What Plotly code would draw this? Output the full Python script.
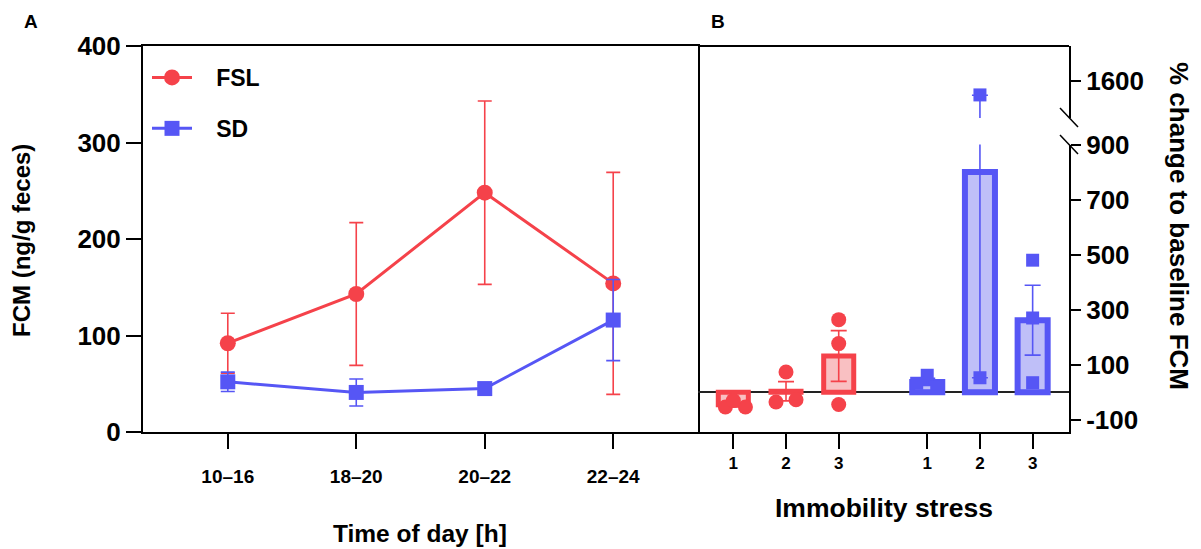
import plotly.graph_objects as go

W, H = 1201, 549

# ---------------- Data ----------------
# Panel A: FCM over time of day
time_labels = ["10–16", "18–20", "20–22", "22–24"]
fsl_mean = [92, 143, 248, 154]
fsl_err = [31, 74, 95, 115]
sd_mean = [52, 41, 45, 116]
sd_err = [10, 14, 3, 42]

# Panel B: % change to baseline FCM after immobility stress
stress_labels = ["1", "2", "3"]
fsl_b_x = [1, 2, 3]
sd_b_x = [4.68, 5.68, 6.68]
fsl_b_mean = [-45, 4, 132]
fsl_b_sem = [8, 35, 92]
sd_b_mean = [38, 800, 262]
sd_b_sem = [13, 747, 127]
# individual animals (group index, value, horizontal jitter)
fsl_pts_group = [0, 0, 0, 1, 1, 1, 2, 2, 2]
fsl_pts_val = [-53, -53, -30, 74, -35, -27, 264, 177, -44]
fsl_pts_jit = [-0.15, 0.23, 0.0, 0.0, -0.19, 0.19, 0.0, 0.0, 0.0]
sd_pts_group = [0, 0, 0, 1, 1, 2, 2, 2]
sd_pts_val = [62, 33, 18, 1548, 53, 480, 270, 35]
sd_pts_jit = [0.0, -0.2, 0.18, 0.0, 0.0, 0.0, 0.0, 0.0]

RED = "#F5424A"
BLUE = "#5656F5"
RED_LIGHT = "#F9C0C2"
BLUE_LIGHT = "#BFBFF8"
FONT = "Liberation Sans, Arial, sans-serif"
NB = "\u00a0"


def px(x):
    return x / W


def py(y):
    return 1 - y / H


fig = go.Figure()

# ---------------- Panel A ----------------
fig.add_trace(go.Scatter(
    x=time_labels, y=fsl_mean, name=NB * 3 + "FSL", mode="lines+markers",
    line=dict(color=RED, width=3), marker=dict(symbol="circle", size=16, color=RED),
    error_y=dict(type="data", array=fsl_err, color=RED, thickness=1.6, width=7),
    xaxis="x", yaxis="y", legendgroup="fsl"))
fig.add_trace(go.Scatter(
    x=time_labels, y=sd_mean, name=NB * 3 + "SD", mode="lines+markers",
    line=dict(color=BLUE, width=3), marker=dict(symbol="square", size=15, color=BLUE),
    error_y=dict(type="data", array=sd_err, color=BLUE, thickness=1.6, width=7),
    xaxis="x", yaxis="y", legendgroup="sd"))

# ---------------- Panel B ----------------
for yax in ("y2", "y3"):
    fig.add_trace(go.Bar(
        x=fsl_b_x, y=fsl_b_mean, width=0.57,
        marker=dict(color=RED_LIGHT, line=dict(color=RED, width=5)),
        error_y=dict(type="data", array=fsl_b_sem, color=RED, thickness=1.6, width=8),
        xaxis="x2", yaxis=yax, showlegend=False))
    fig.add_trace(go.Bar(
        x=sd_b_x, y=sd_b_mean, width=0.57,
        marker=dict(color=BLUE_LIGHT, line=dict(color=BLUE, width=6)),
        error_y=dict(type="data", array=sd_b_sem, color=BLUE, thickness=1.6, width=8),
        xaxis="x2", yaxis=yax, showlegend=False))
    fig.add_trace(go.Scatter(
        x=[fsl_b_x[g] + j for g, j in zip(fsl_pts_group, fsl_pts_jit)], y=fsl_pts_val,
        mode="markers", marker=dict(symbol="circle", size=15, color=RED),
        xaxis="x2", yaxis=yax, showlegend=False, cliponaxis=True))
    fig.add_trace(go.Scatter(
        x=[sd_b_x[g] + j for g, j in zip(sd_pts_group, sd_pts_jit)], y=sd_pts_val,
        mode="markers", marker=dict(symbol="square", size=13, color=BLUE),
        xaxis="x2", yaxis=yax, showlegend=False, cliponaxis=True))

axis_common = dict(showgrid=False, zeroline=False, showline=True, linecolor="black",
                   ticks="outside", tickcolor="black")

fig.update_layout(
    width=W, height=H,
    margin=dict(l=0, r=0, t=0, b=0, autoexpand=False),
    paper_bgcolor="white", plot_bgcolor="white",
    font=dict(family=FONT, color="black"),
    barmode="overlay",
    xaxis=dict(**axis_common, domain=[px(143), px(698)], anchor="y",
               type="category", range=[-0.66, 3.66], linewidth=2, mirror=True,
               ticklen=15, tickwidth=1.5, tickfont=dict(size=19, weight="bold"),
               ticklabelstandoff=11),
    yaxis=dict(**axis_common, domain=[py(432), py(46)], anchor="x",
               range=[0, 400], dtick=100, linewidth=2, mirror=True,
               ticklen=15, tickwidth=2, tickfont=dict(size=26, weight="bold")),
    xaxis2=dict(**axis_common, domain=[px(698), px(1069)], anchor="y2",
                range=[0.33, 7.37], linewidth=2,
                tickvals=fsl_b_x + sd_b_x, ticktext=stress_labels + stress_labels,
                ticklen=15, tickwidth=1.5, tickfont=dict(size=17, weight="bold")),
    yaxis2=dict(showgrid=False, showline=True, linecolor="black", ticks="outside",
                tickcolor="black", domain=[py(432), py(144.5)], anchor="x2", side="right",
                range=[-144, 900], linewidth=2, ticklen=10, tickwidth=1.5,
                tickvals=[-100, 100, 300, 500, 700, 900],
                ticktext=["-100", "100", "300", "500", "700", "900"],
                tickfont=dict(size=26, weight="bold"),
                zeroline=True, zerolinecolor="#222", zerolinewidth=1.5),
    yaxis3=dict(**axis_common, domain=[py(118), py(46)], anchor="x2", side="right",
                range=[1464, 1726], linewidth=2, ticklen=10, tickwidth=1.5,
                tickvals=[1600], ticktext=["1600"],
                tickfont=dict(size=26, weight="bold")),
    legend=dict(x=px(147), y=py(56), xanchor="left", yanchor="top",
                font=dict(size=23, weight="bold"), itemwidth=40,
                tracegroupgap=18, bgcolor="rgba(0,0,0,0)"),
    showlegend=True,
)

# box edge for panel B top, axis-break marks
fig.add_shape(type="line", xref="paper", yref="paper",
              x0=px(698), x1=px(1069), y0=py(46), y1=py(46),
              line=dict(color="black", width=2))
for (x0, y0, x1, y1) in [(1060, 108, 1078, 127), (1060, 135, 1078, 154)]:
    fig.add_shape(type="line", xref="paper", yref="paper",
                  x0=px(x0), y0=py(y0), x1=px(x1), y1=py(y1),
                  line=dict(color="black", width=1.5))

ann = [
    dict(text="<b>A</b>", x=31, y=21, size=19, angle=0),
    dict(text="<b>B</b>", x=718, y=21, size=19, angle=0),
    dict(text="<b>FCM (ng/g feces)</b>", x=22, y=241, size=24, angle=-90),
    dict(text="<b>Time of day [h]</b>", x=420, y=533, size=24.5, angle=0),
    dict(text="<b>Immobility stress</b>", x=884, y=508, size=26.5, angle=0),
    dict(text="<b>% change to baseline FCM</b>", x=1179, y=226, size=26, angle=90),
]
for a in ann:
    fig.add_annotation(text=a["text"], x=px(a["x"]), y=py(a["y"]), xref="paper",
                       yref="paper", showarrow=False, textangle=a["angle"],
                       xanchor="center", yanchor="middle",
                       font=dict(size=a["size"], family=FONT, color="black"))

fig.write_html("out.html", config={"displayModeBar": False},
               post_script="document.body.style.margin='0';")
